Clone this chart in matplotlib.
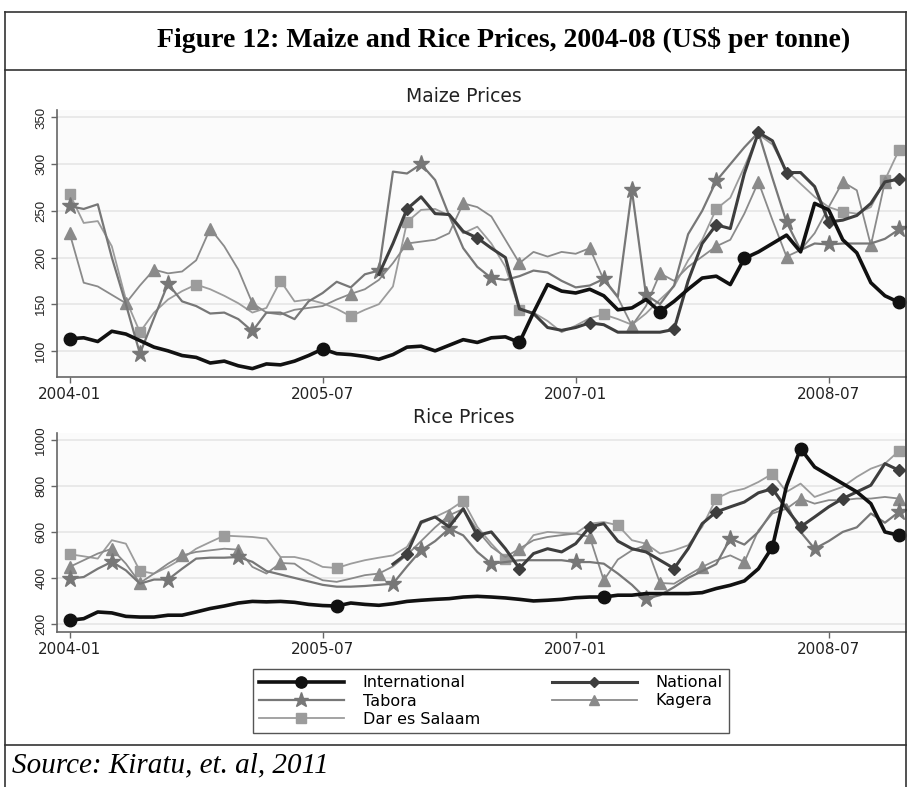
import numpy as np
import matplotlib
matplotlib.use("Agg")
import matplotlib.pyplot as plt
from matplotlib.lines import Line2D

nan = np.nan

# monthly, 2004-01 .. 2008-12
months = np.arange(60)
tick_pos = [0, 18, 36, 54]
tick_labels = ["2004-01", "2005-07", "2007-01", "2008-07"]

# ---------------- maize (US$ per tonne) ----------------
maize_intl = [113, 114, 110, 121, 118, 111, 104, 100, 95, 93, 87, 89, 84, 81, 86, 85, 89, 95, 102, 97,
              96, 94, 91, 96, 104, 105, 100, 106, 112, 109, 114, 115, 109, 141, 171, 164, 162, 166, 159, 144,
              146, 155, 142, 153, 166, 178, 180, 171, 199, 206, 215, 224, 206, 258, 251, 219, 205, 173, 159, 152]
maize_nat = [nan] * 22 + [182, 215, 252, 265, 247, 246, 228, 221, 210, 200, 145, 140, 125, 122, 125, 130, 128, 120,
                          120, 120, 120, 123, 175, 215, 235, 231, 290, 334, 325, 291, 291, 276, 238, 240, 245, 258, 281, 284]
maize_tab = [255, 252, 257, 200, 150, 97, 135, 172, 153, 148, 140, 141, 134, 121, 141, 141, 134, 153, 162, 174,
             168, 182, 186, 292, 290, 300, 283, 245, 210, 190, 178, 176, 180, 186, 184, 175, 168, 170, 177, 158,
             272, 160, 150, 170, 225, 250, 282, 300, 318, 334, 285, 238, 208, 215, 214, 215, 215, 215, 220, 230]
maize_kag = [226, 173, 169, 160, 151, 170, 187, 183, 185, 197, 231, 212, 187, 151, 141, 139, 144, 146, 148, 155,
             161, 166, 176, 194, 215, 217, 219, 226, 258, 254, 244, 219, 194, 206, 201, 206, 204, 210, 176, 157,
             127, 148, 183, 175, 190, 201, 212, 219, 247, 281, 240, 201, 208, 226, 254, 281, 272, 213, 281, nan]
maize_dar = [268, 237, 239, 212, 155, 120, 141, 155, 164, 171, 166, 159, 151, 141, 146, 175, 153, 155, 151, 145,
             137, 144, 150, 169, 238, 251, 252, 245, 226, 233, 215, 190, 144, 141, 132, 120, 127, 135, 139, 134,
             128, 140, 155, 169, 197, 219, 252, 264, 297, 332, 321, 293, 279, 265, 254, 249, 247, 254, 283, 315]

maize_marks = {
    "intl": [0, 18, 32, 42, 48, 59],
    "nat": [24, 29, 37, 43, 46, 49, 51, 54, 59],
    "tab": [0, 5, 7, 13, 22, 25, 30, 38, 40, 41, 46, 51, 54, 59],
    "kag": [0, 4, 6, 10, 13, 20, 24, 28, 32, 37, 40, 42, 46, 49, 51, 55, 57, 58],
    "dar": [0, 5, 9, 15, 20, 24, 32, 38, 46, 55, 58, 59],
}

# ---------------- rice (US$ per tonne) ----------------
rice_intl = [216, 223, 252, 248, 233, 230, 230, 238, 238, 252, 267, 278, 291, 298, 296, 298, 294, 285, 280, 278,
             291, 285, 281, 288, 298, 303, 307, 310, 317, 320, 317, 313, 307, 300, 303, 307, 314, 317, 317, 325,
             325, 332, 332, 332, 332, 336, 354, 368, 387, 440, 535, 800, 962, 882, 846, 810, 774, 723, 600, 585]
rice_nat = [nan] * 23 + [460, 506, 643, 665, 622, 701, 585, 600, 527, 441, 506, 527, 513, 549, 622, 636, 560,
                         527, 513, 477, 441, 527, 636, 687, 709, 730, 770, 788, 700, 622, 665, 709, 745, 774, 803, 897, 868]
rice_tab = [397, 404, 440, 470, 433, 375, 393, 393, 440, 484, 488, 488, 491, 470, 430, 415, 400, 385, 370, 362,
            362, 365, 370, 375, 450, 520, 560, 614, 585, 513, 462, 469, 477, 477, 477, 477, 469, 469, 462, 419,
            370, 310, 325, 360, 400, 430, 460, 571, 545, 600, 690, 720, 600, 527, 560, 600, 620, 680, 640, 687]
rice_kag = [448, 477, 506, 527, 462, 378, 419, 462, 498, 513, 520, 527, 523, 448, 419, 465, 462, 419, 390, 383,
            397, 412, 419, 450, 500, 560, 620, 672, 700, 607, 535, 491, 527, 564, 578, 586, 593, 578, 390, 480,
            520, 542, 378, 375, 412, 448, 477, 498, 469, 607, 680, 701, 745, 723, 738, 738, 745, 745, 752, 745]
rice_dar = [503, 494, 484, 564, 549, 430, 419, 448, 484, 527, 556, 584, 581, 578, 571, 491, 491, 477, 448, 443,
            462, 477, 488, 498, 535, 636, 665, 694, 735, 622, 549, 484, 506, 586, 600, 596, 593, 636, 643, 629,
            564, 549, 506, 520, 542, 622, 745, 774, 788, 817, 853, 774, 810, 752, 774, 796, 839, 875, 897, 952]

rice_marks = {
    "intl": [0, 19, 38, 50, 52, 59],
    "nat": [24, 29, 32, 37, 43, 46, 50, 52, 55, 59],
    "tab": [0, 3, 7, 12, 23, 25, 27, 30, 36, 41, 47, 53, 59],
    "kag": [0, 3, 5, 8, 12, 15, 22, 27, 32, 37, 38, 41, 42, 45, 48, 52, 59],
    "dar": [0, 5, 11, 19, 28, 31, 39, 46, 50, 59],
}

names = {"intl": "International", "nat": "National", "tab": "Tabora",
         "kag": "Kagera", "dar": "Dar es Salaam"}
styles = {
    "intl": dict(color="#111111", lw=2.6, marker="o", ms=9, zorder=6),
    "nat": dict(color="#3e3e3e", lw=2.2, marker="D", ms=6, zorder=5),
    "tab": dict(color="#777777", lw=1.6, marker="*", ms=12.5, zorder=4),
    "kag": dict(color="#8a8a8a", lw=1.3, marker="^", ms=8, zorder=3),
    "dar": dict(color="#9c9c9c", lw=1.3, marker="s", ms=7.5, zorder=2),
}

W, H = 909, 787
fig = plt.figure(figsize=(W / 100, H / 100), dpi=100)


def fx(x):
    return x / W


def fy(y):
    return 1 - y / H


# frame of the figure box
for (x0, y0, x1, y1) in [(5, 12, 906, 12), (5, 70, 906, 70), (5, 745, 906, 745),
                         (5, 12, 5, 787), (906, 12, 906, 787)]:
    fig.add_artist(Line2D([fx(x0), fx(x1)], [fy(y0), fy(y1)], color="#333333", lw=1.2))

fig.text(fx(504), fy(40), "Figure 12: Maize and Rice Prices, 2004-08 (US$ per tonne)",
         ha="center", va="center", fontsize=20, fontweight="bold", family="Liberation Serif")
fig.text(fx(12), fy(765), "Source: Kiratu, et. al, 2011", ha="left", va="center",
         fontsize=21, style="italic", family="Liberation Serif")


def draw_panel(ax, series, marks, ylim, yticks, title, title_y):
    order = ["dar", "kag", "tab", "nat", "intl"]
    for key in order:
        st = styles[key]
        vals = np.array(series[key], dtype=float)
        ax.plot(months, vals, color=st["color"], lw=st["lw"], marker=st["marker"],
                ms=st["ms"], mfc=st["color"], mec=st["color"], markevery=marks[key],
                zorder=st["zorder"], label=names[key])
    ax.set_xlim(-0.9, 59.5)
    ax.set_ylim(*ylim)
    ax.set_yticks(yticks)
    ax.set_xticks(tick_pos)
    ax.set_xticklabels(tick_labels, fontsize=11, color="#222222", family="DejaVu Sans")
    ax.set_yticklabels([str(v) for v in yticks], rotation=90, va="center",
                       fontsize=9.5, color="#222222", family="Liberation Sans")
    ax.set_facecolor("#fbfbfb")
    ax.yaxis.grid(True, color="#e6e6e6", lw=1.2)
    ax.set_axisbelow(True)
    for s in ["top", "right"]:
        ax.spines[s].set_visible(False)
    for s in ["left", "bottom"]:
        ax.spines[s].set_color("#666666")
        ax.spines[s].set_linewidth(1.2)
    ax.tick_params(axis="both", length=4, width=1, color="#666666", pad=3)
    fig.text(fx(464), fy(title_y), title, ha="center", va="center", fontsize=13.5,
             color="#222222", family="DejaVu Sans")


ax1 = fig.add_axes([fx(57), fy(377), (906 - 57) / W, (377 - 110) / H])
ax2 = fig.add_axes([fx(57), fy(632), (906 - 57) / W, (632 - 433) / H])

maize = {"intl": maize_intl, "nat": maize_nat, "tab": maize_tab, "kag": maize_kag, "dar": maize_dar}
rice = {"intl": rice_intl, "nat": rice_nat, "tab": rice_tab, "kag": rice_kag, "dar": rice_dar}

draw_panel(ax1, maize, maize_marks, (72, 358), [100, 150, 200, 250, 300, 350], "Maize Prices", 96)
draw_panel(ax2, rice, rice_marks, (165, 1030), [200, 400, 600, 800, 1000], "Rice Prices", 418)

# legend: filled row-wise -> International, National / Tabora, Kagera / Dar es Salaam
leg_keys = ["intl", "tab", "dar", "nat", "kag"]
leg_handles = []
for key in leg_keys:
    st = styles[key]
    leg_handles.append(Line2D([], [], color=st["color"], lw=st["lw"], marker=st["marker"],
                              ms=st["ms"] * 0.9, mfc=st["color"], mec=st["color"]))
leg = fig.legend(leg_handles, [names[k] for k in leg_keys], ncol=2, loc="center",
                 bbox_to_anchor=(fx(491), fy(701)), handlelength=5.3,
                 labelspacing=0.2, columnspacing=4.5, borderpad=0.4, handletextpad=1.2,
                 fancybox=False, edgecolor="#555555", framealpha=1, facecolor="#ffffff",
                 prop={"family": "DejaVu Sans", "size": 11.5})
leg.get_frame().set_linewidth(1.0)

fig.savefig("out.png", dpi=100, facecolor="white")
